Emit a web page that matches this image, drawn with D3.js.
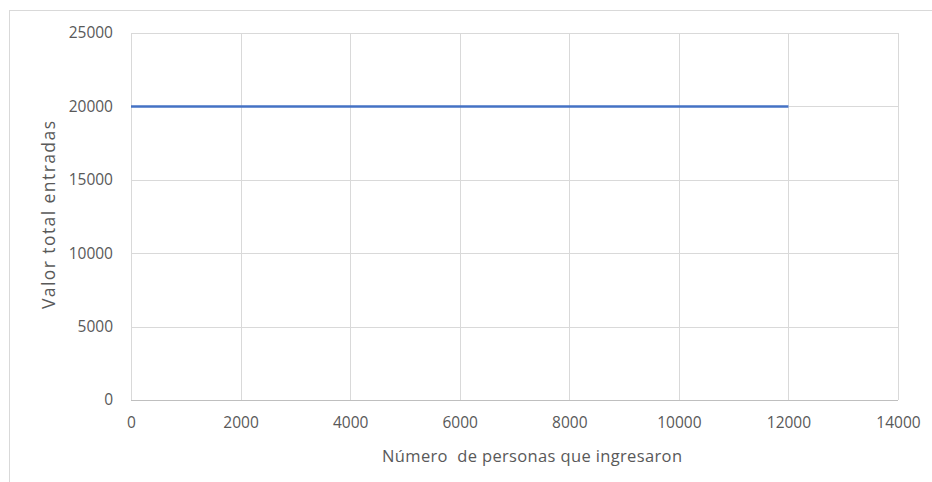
<!DOCTYPE html>
<html>
<head>
<meta charset="utf-8">
<script src="https://cdn.jsdelivr.net/npm/d3@7"></script>
<style>
  html, body { margin: 0; padding: 0; background: #fff; }
  svg { display: block; }
  text { font-family: "Open Sans", "Liberation Sans", sans-serif; fill: #595959; }
</style>
</head>
<body>
<svg id="chart" width="932" height="482"></svg>
<script>
// Entry revenue vs. number of visitors
const personas = [0, 2000, 4000, 6000, 8000, 10000, 12000];
const valorTotal = [20000, 20000, 20000, 20000, 20000, 20000, 20000];
const xTicks = [0, 2000, 4000, 6000, 8000, 10000, 12000, 14000];
const yTicks = [0, 5000, 10000, 15000, 20000, 25000];
const xTitle = "Número  de personas que ingresaron";
const yTitle = "Valor total entradas";

const svg = d3.select("#chart");
const W = 932, H = 482;
const plot = { left: 131, right: 898, top: 33, bottom: 400 };
const font = "'Open Sans', 'Liberation Sans', sans-serif";

// Chart frame
svg.append("rect")
  .attr("x", 9.5).attr("y", 10.5)
  .attr("width", W + 20).attr("height", H + 20)
  .attr("fill", "#fff").attr("stroke", "#d9d9d9").attr("stroke-width", 1);

const x = d3.scaleLinear().domain([0, 14000]).range([plot.left, plot.right]);
const y = d3.scaleLinear().domain([0, 25000]).range([plot.bottom, plot.top]);

// Gridlines
const grid = svg.append("g");
grid.selectAll("line.vx").data(xTicks).join("line")
  .attr("x1", d => Math.round(x(d)) + 0.5).attr("x2", d => Math.round(x(d)) + 0.5)
  .attr("y1", plot.top).attr("y2", plot.bottom)
  .attr("stroke", "#d9d9d9").attr("stroke-width", 1);
grid.selectAll("line.hy").data(yTicks).join("line")
  .attr("y1", d => Math.round(y(d)) + 0.5).attr("y2", d => Math.round(y(d)) + 0.5)
  .attr("x1", plot.left).attr("x2", plot.right)
  .attr("stroke", d => d === 0 ? "#bfbfbf" : "#d9d9d9").attr("stroke-width", 1);

// Axes (labels only)
const xAxis = d3.axisBottom(x).tickValues(xTicks).tickSize(0).tickPadding(0).tickFormat(d3.format("d"));
const gx = svg.append("g").attr("transform", `translate(0,${plot.bottom + 17})`).call(xAxis);
gx.select(".domain").remove();
gx.selectAll("text").attr("font-size", 15.5).attr("fill", "#595959").attr("font-family", font);

const yAxis = d3.axisLeft(y).tickValues(yTicks).tickSize(0).tickPadding(18).tickFormat(d3.format("d"));
const gy = svg.append("g").attr("transform", `translate(${plot.left},0)`).call(yAxis);
gy.select(".domain").remove();
gy.selectAll("text").attr("font-size", 15.5).attr("fill", "#595959").attr("font-family", font);

// Series line
const line = d3.line().x(d => x(d[0])).y(d => y(d[1]));
svg.append("path")
  .datum(personas.map((p, i) => [p, valorTotal[i]]))
  .attr("d", line)
  .attr("fill", "none")
  .attr("stroke", "#4472c4")
  .attr("stroke-width", 2.5);

// Axis titles
svg.append("text")
  .attr("x", 532).attr("y", 462)
  .attr("text-anchor", "middle").attr("font-size", 16.5)
  .attr("textLength", 300).attr("lengthAdjust", "spacing")
  .style("white-space", "pre")
  .text(xTitle);

svg.append("text")
  .attr("transform", `translate(55,215) rotate(-90)`)
  .attr("text-anchor", "middle").attr("font-size", 17.5)
  .attr("textLength", 188).attr("lengthAdjust", "spacing")
  .text(yTitle);
</script>
</body>
</html>
